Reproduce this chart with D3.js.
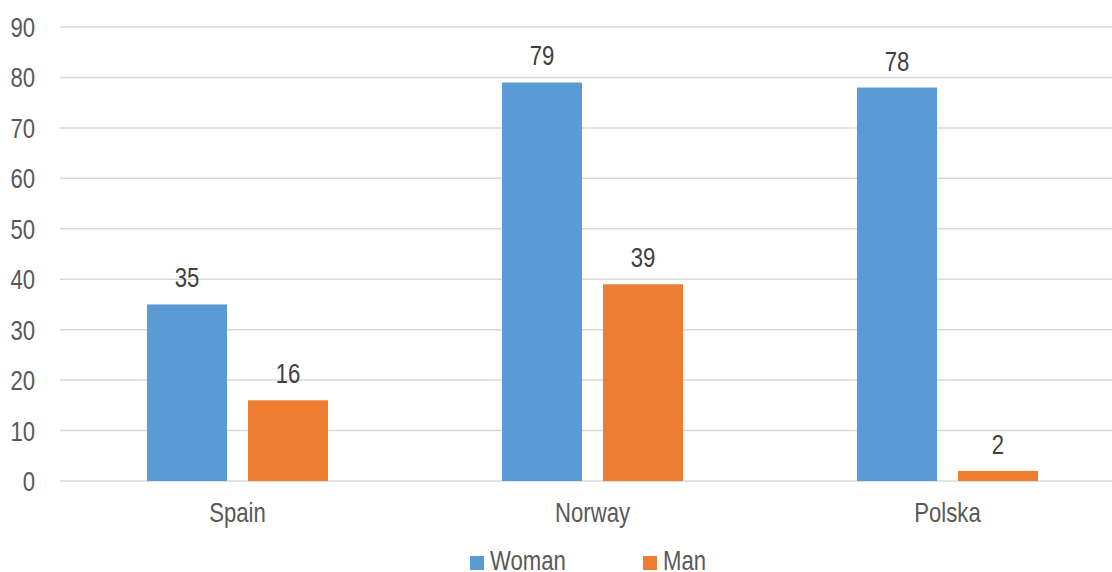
<!DOCTYPE html>
<html><head><meta charset="utf-8">
<script src="https://cdn.jsdelivr.net/npm/d3@7"></script>
<style>
html,body{margin:0;padding:0;background:#fff;}
svg{display:block;font-family:"Liberation Sans",Arial,sans-serif;}
</style></head>
<body>
<svg id="chart" width="1112" height="572"></svg>
<script>
const categories = ["Spain", "Norway", "Polska"];
const seriesNames = ["Woman", "Man"];
const womanValues = [35, 79, 78];
const manValues = [16, 39, 2];
const yTicks = [0, 10, 20, 30, 40, 50, 60, 70, 80, 90];
const colors = ["#5B9BD5", "#ED7D31"];

const seriesValues = [womanValues, manValues];
const svg = d3.select("#chart");
const FS = 27, SX = 0.82;

const x0 = d3.scaleBand().domain(categories).range([60, 1125]).paddingInner(0).paddingOuter(0);
const x1 = d3.scaleBand().domain(seriesNames).range([0, x0.bandwidth()]).paddingInner(0.208).paddingOuter(0.8614);
const y = d3.scaleLinear().domain([0, 90]).range([481, 27]);
const color = d3.scaleOrdinal().domain(seriesNames).range(colors);

// y axis labels
const yAxis = d3.axisLeft(y).tickValues(yTicks).tickSize(0).tickPadding(0);
const gy = svg.append("g").attr("transform", "translate(35,0)").call(yAxis);
gy.select(".domain").remove();
gy.selectAll("text").attr("font-size", FS).attr("fill", "#595959").attr("font-family", null)
  .attr("dy", "0.35em").attr("x", 0).attr("transform", `scale(${SX},1)`);

// gridlines
svg.append("g").selectAll("line").data(yTicks).join("line")
  .attr("x1", 60).attr("x2", 1112)
  .attr("y1", d => y(d)).attr("y2", d => y(d))
  .attr("stroke", "#D9D9D9").attr("stroke-width", 1.5);

// bars
const groups = svg.append("g").selectAll("g").data(categories).join("g")
  .attr("transform", d => `translate(${x0(d)},0)`);

const cells = (d, i) => seriesNames.map((s, j) => ({s, v: seriesValues[j][i]}));

groups.selectAll("rect").data(cells).join("rect")
  .attr("x", d => x1(d.s)).attr("width", x1.bandwidth())
  .attr("y", d => y(d.v)).attr("height", d => y(0) - y(d.v))
  .attr("fill", d => color(d.s));

groups.selectAll("text.val").data(cells).join("text").attr("class", "val")
  .attr("transform", d => `translate(${x1(d.s) + x1.bandwidth() / 2},${y(d.v) - 17}) scale(${SX},1)`)
  .attr("text-anchor", "middle").attr("font-size", FS).attr("fill", "#404040")
  .text(d => d.v);

// x axis labels
const xAxis = d3.axisBottom(x0).tickSize(0).tickPadding(0);
const gx = svg.append("g").attr("transform", "translate(0,522)").call(xAxis);
gx.select(".domain").remove();
gx.selectAll("text").attr("font-size", FS).attr("fill", "#595959").attr("font-family", null)
  .attr("dy", 0).attr("y", 0).attr("transform", `scale(${SX},1)`);

// legend
const legendX = [470, 643];
const lg = svg.append("g").selectAll("g").data(seriesNames).join("g")
  .attr("transform", (d, i) => `translate(${legendX[i]},0)`);
lg.append("rect").attr("x", 0).attr("y", 556).attr("width", 14).attr("height", 14).attr("fill", d => color(d));
lg.append("text").attr("transform", `translate(20,570) scale(${SX},1)`)
  .attr("font-size", FS).attr("fill", "#595959").text(d => d);
</script>
</body></html>
